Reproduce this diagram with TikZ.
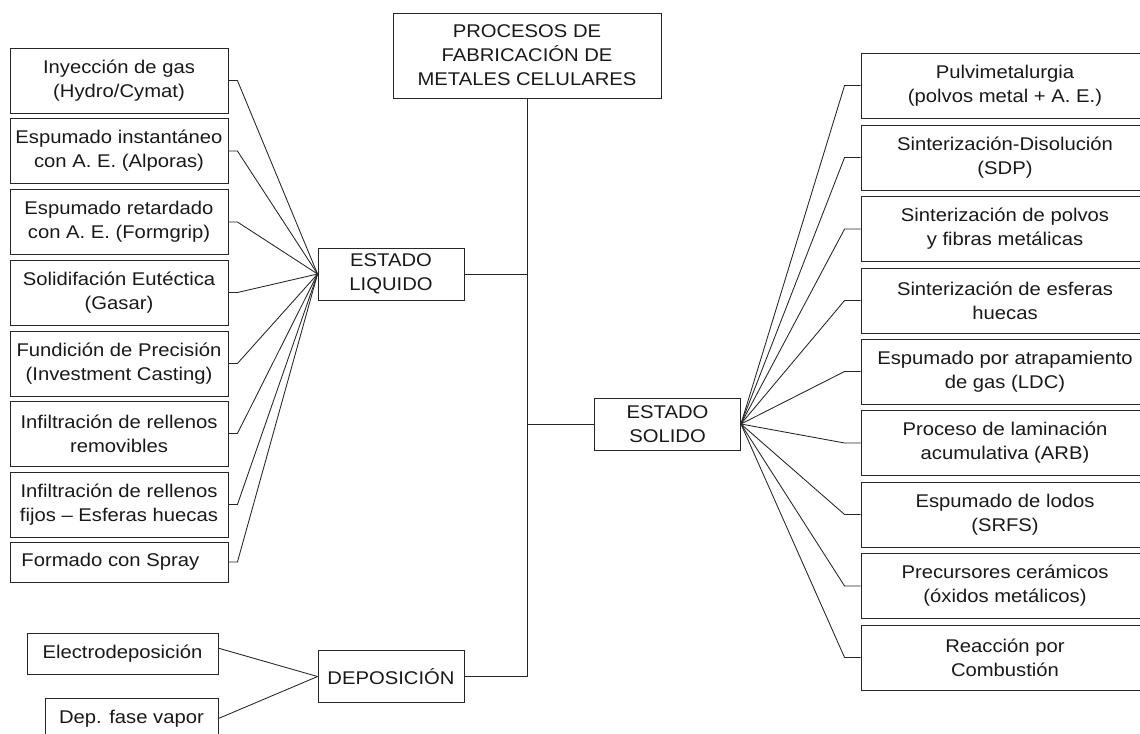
\documentclass[tikz,border=0pt]{standalone}
\usepackage{fontspec}
\setmainfont[FakeStretch=1.1]{Liberation Sans}
\usepackage{tikz}
\tikzstyle{line} = [black!85, line width=0.65pt]
\tikzstyle{box} = [draw=black!85, line width=0.65pt, align=center, inner sep=0pt, font=\fontsize{13.8}{18}\selectfont, text=black!90]
\tikzstyle{leftbox} = [box, minimum width=163.5pt, minimum height=48.75pt]
\tikzstyle{rightbox} = [box, minimum width=216pt, minimum height=48.75pt]
\tikzstyle{midbox} = [box, minimum width=109.5pt, minimum height=39pt]

\begin{document}
\begin{tikzpicture}[x=0.75pt, y=-0.75pt]
        \useasboundingbox (0,0) rectangle (1140,733);
        \node[box, minimum width=201pt, minimum height=63.75pt] at (527,55.5) (top) {PROCESOS DE\\FABRICACIÓN DE\\METALES CELULARES};

        \node[midbox] at (391,274) (liq) {ESTADO\\LIQUIDO};
        \node[midbox] at (667.5,424) (sol) {ESTADO\\SOLIDO};
        \node[midbox] at (391,676.5) (dep) {DEPOSICIÓN};

        % estado liquido
        \node[leftbox] at (119,80.5) (l1) {Inyección de gas\\(Hydro/Cymat)};
        \node[leftbox] at (119,151) (l2) {Espumado instantáneo\\con A. E. (Alporas)};
        \node[leftbox] at (119,222) (l3) {Espumado retardado\\con A. E. (Formgrip)};
        \node[leftbox] at (119,292.5) (l4) {Solidifación Eutéctica\\(Gasar)};
        \node[leftbox] at (119,363.5) (l5) {Fundición de Precisión\\(Investment Casting)};
        \node[leftbox] at (119,433.5) (l6) {Infiltración de rellenos\\removibles};
        \node[leftbox] at (119,504.5) (l7) {Infiltración de rellenos\\fijos -- Esferas huecas};
        \node[leftbox, minimum height=30pt] at (119,562) (l8) {Formado con Spray\hspace{13pt}};

        % deposicion
        \node[box, minimum width=143.25pt, minimum height=30.75pt] at (122.5,653.5) (d1) {Electrodeposición};
        \node[box, minimum width=129.75pt, minimum height=30.75pt] at (131.5,718.5) (d2) {Dep. fase vapor};

        % estado solido
        \node[rightbox] at (1005,85.5) (r1) {Pulvimetalurgia\\(polvos metal + A. E.)};
        \node[rightbox] at (1005,157.5) (r2) {Sinterización-Disolución\\(SDP)};
        \node[rightbox] at (1005,229) (r3) {Sinterización de polvos\\y fibras metálicas};
        \node[rightbox] at (1005,300.5) (r4) {Sinterización de esferas\\huecas};
        \node[rightbox] at (1005,371.5) (r5) {Espumado por atrapamiento\\de gas (LDC)};
        \node[rightbox] at (1005,443) (r6) {Proceso de laminación\\acumulativa (ARB)};
        \node[rightbox] at (1005,514.5) (r7) {Espumado de lodos\\(SRFS)};
        \node[rightbox] at (1005,586) (r8) {Precursores cerámicos\\(óxidos metálicos)};
        \node[rightbox] at (1005,657.5) (r9) {Reacción por\\Combustión};

        \draw[line] (top.south) |- (dep.east);
        \draw[line] (liq.east) -- (liq.east -| top.south);
        \draw[line] (sol.west) -- (sol.west -| top.south);

        \foreach \i in {1,...,8}
            \draw[line] (l\i.east) -- ++(9,0) -- (liq.west);
        \foreach \i in {1,...,9}
            \draw[line] (r\i.west) -- ++(-16,0) -- (sol.east);
        \draw[line] ([yshift=4pt]d1.east) -- (dep.west);
        \draw[line] (d2.east) -- (dep.west);

    \end{tikzpicture}
\end{document}
